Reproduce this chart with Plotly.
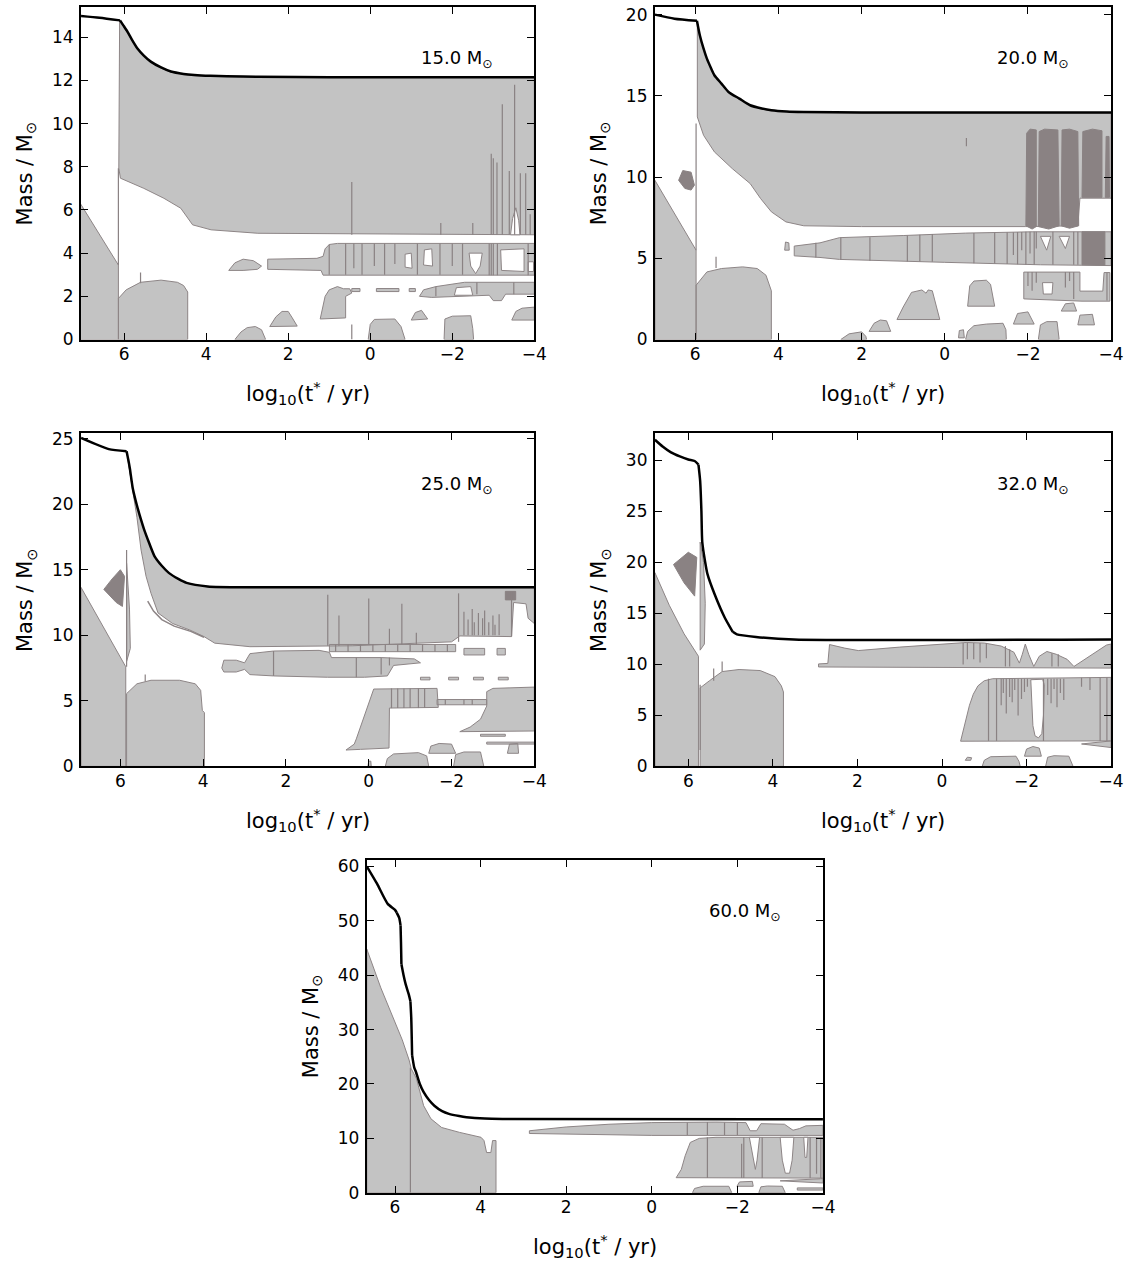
import plotly.graph_objects as go

FILL = "#c3c3c3"
EDGE = "#8d8586"
DARK = "#8a8283"
FONT = "DejaVu Sans"

# ---------------- 15.0 Msun ----------------
M15_XRANGE = [7.05, -4.0]
M15_YMAX = 15.4
M15_YTICKS = [0, 2, 4, 6, 8, 10, 12, 14]
M15_TOTAL_T = [7.15, 6.6, 6.10, 6.02, 5.92, 5.80, 5.68, 5.52, 5.35, 5.10, 4.86, 4.55, 4.29, 3.9, 3.5, 2.74, 1.0, -4.0]
M15_TOTAL_M = [15.0, 14.9, 14.78, 14.55, 14.26, 13.85, 13.49, 13.15, 12.87, 12.6, 12.41, 12.3, 12.25, 12.21,
               12.19, 12.17, 12.15, 12.15]
M15_KNEES = [2]
M15_ZONES = [
    [(7.15, 0), (7.15, 6.55), (6.14, 3.45), (6.14, 0)],
    [(6.13, 7.93), (6.11, 14.76), (6.02, 14.52), (5.92, 14.23), (5.80, 13.82), (5.68, 13.46), (5.52, 13.12),
     (5.35, 12.84), (5.10, 12.57), (4.86, 12.38), (4.55, 12.27), (4.29, 12.22), (3.5, 12.17), (2.74, 12.15),
     (-4, 12.13), (-4, 4.85), (2.74, 4.92), (3.88, 5.08), (4.33, 5.31), (4.45, 5.62), (4.62, 6.08),
     (5.03, 6.54), (5.52, 7.0), (6.09, 7.47)],
    [(6.14, 0), (6.14, 1.9), (5.95, 2.3), (5.6, 2.65), (5.1, 2.75), (4.7, 2.65), (4.55, 2.5), (4.45, 2.2), (4.45, 0)],
    [(3.45, 3.2), (3.3, 3.55), (3.1, 3.72), (2.85, 3.65), (2.65, 3.4), (2.75, 3.25), (3.1, 3.2)],
    [(2.5, 3.25), (2.5, 3.72), (1.3, 3.76), (1.15, 3.85), (1.1, 4.2), (1.0, 4.4), (0.8, 4.45), (-4, 4.45),
     (-4, 2.98), (1.15, 2.98), (1.2, 3.2)],
    [(-1.2, 2.0), (-1.3, 2.3), (-1.6, 2.45), (-2.0, 2.55), (-2.3, 2.65), (-4, 2.65), (-4, 2.1), (-3.3, 2.1),
     (-3.2, 1.8), (-3.0, 1.8), (-2.9, 2.05), (-1.5, 1.95)],
    [(1.22, 0.95), (1.15, 1.5), (1.1, 2.0), (1.0, 2.3), (0.8, 2.45), (0.65, 2.35), (0.5, 2.35), (0.45, 2.15),
     (0.6, 2.0), (0.6, 1.0)],
    [(0.45, 2.22), (0.45, 2.36), (0.25, 2.36), (0.25, 2.22)],
    [(-0.15, 2.22), (-0.15, 2.36), (-0.7, 2.36), (-0.7, 2.22)],
    [(-0.95, 2.22), (-0.95, 2.36), (-1.1, 2.36), (-1.1, 2.22)],
    [(3.3, 0), (3.15, 0.35), (3.0, 0.55), (2.8, 0.6), (2.65, 0.45), (2.55, 0)],
    [(2.45, 0.6), (2.3, 1.05), (2.15, 1.3), (2.0, 1.3), (1.9, 1.0), (1.78, 0.62)],
    [(0.05, 0), (0.0, 0.7), (-0.1, 0.93), (-0.6, 0.95), (-0.75, 0.6), (-0.85, 0)],
    [(-1.0, 0.9), (-1.1, 1.25), (-1.25, 1.35), (-1.4, 0.95)],
    [(-1.8, 0), (-1.82, 0.95), (-2.0, 1.08), (-2.45, 1.1), (-2.5, 0.5), (-2.52, 0)],
    [(-3.45, 0.9), (-3.55, 1.3), (-3.7, 1.45), (-4, 1.5), (-4, 0.9)],
]
M15_DARK = []
M15_HOLES = [
    [(-0.85, 3.35), (-0.85, 3.95), (-1.0, 4.0), (-1.02, 3.3)],
    [(-1.3, 3.45), (-1.32, 4.15), (-1.5, 4.2), (-1.52, 3.4)],
    [(-2.41, 4.0), (-2.45, 3.4), (-2.57, 3.05), (-2.68, 3.4), (-2.73, 4.0)],
    [(-3.2, 3.2), (-3.18, 4.15), (-3.75, 4.2), (-3.75, 3.15)],
    [(-3.85, 3.15), (-3.85, 3.6), (-3.98, 3.6), (-3.98, 3.15)],
    [(-2.05, 2.05), (-2.1, 2.4), (-2.45, 2.45), (-2.5, 2.05)],
    [(-3.42, 4.85), (-3.47, 5.6), (-3.55, 6.1), (-3.62, 5.5), (-3.65, 4.85)],
]
M15_SPIKES = [
    (6.14, 3.45, 7.93), (5.6, 2.6, 3.1), (0.45, 4.85, 7.3), (0.45, 0.0, 0.7), (-1.72, 4.85, 5.4),
    (-2.5, 4.85, 5.4), (-2.95, 4.85, 8.6), (-3.0, 4.85, 8.4), (-3.09, 4.85, 8.2), (-3.22, 4.85, 10.9),
    (-3.39, 4.85, 7.8), (-3.52, 4.85, 11.8), (-3.66, 4.85, 7.7), (-3.79, 4.85, 7.7), (-3.9, 4.85, 5.8),
    (1.0, 3.0, 4.4), (0.6, 3.0, 4.45), (0.4, 3.3, 4.45), (0.2, 3.0, 4.45), (-0.1, 3.4, 4.45),
    (-0.35, 3.0, 4.45), (-0.6, 3.5, 4.45), (-1.15, 3.0, 4.45), (-1.7, 3.0, 4.45), (-2.0, 3.4, 4.45),
    (-2.25, 3.0, 4.45), (-2.9, 2.98, 4.45), (-2.95, 2.98, 4.45), (-3.0, 2.98, 4.45), (-3.1, 2.98, 4.45),
    (-3.85, 2.98, 4.45), (-2.6, 2.1, 2.65), (-3.5, 2.1, 2.65), (-1.6, 2.0, 2.45),
]
M15_SHELL_T = []
M15_SHELL_M = []

# ---------------- 20.0 Msun ----------------
M20_XRANGE = [6.97, -4.0]
M20_YMAX = 20.47
M20_YTICKS = [0, 5, 10, 15, 20]
M20_TOTAL_T = [6.97, 6.5, 5.96, 5.89, 5.8, 5.72, 5.62, 5.54, 5.37, 5.2, 4.94, 4.68, 4.4, 4.17, 3.8, 3.39, 2.0, -4.0]
M20_TOTAL_M = [20.0, 19.75, 19.62, 18.73, 17.9, 17.29, 16.7, 16.27, 15.75, 15.24, 14.83, 14.42, 14.22, 14.11,
               14.03, 14.0, 13.98, 13.98]
M20_KNEES = [2]
M20_ZONES = [
    [(6.97, 0), (6.97, 9.8), (5.98, 5.5), (5.98, 0)],
    [(5.95, 13.7), (5.95, 19.55), (5.89, 18.7), (5.8, 17.87), (5.72, 17.26), (5.62, 16.67), (5.54, 16.24),
     (5.37, 15.72), (5.2, 15.21), (4.94, 14.8), (4.68, 14.39), (4.4, 14.19), (4.17, 14.08), (3.39, 13.97),
     (2.0, 13.95), (-4, 13.95), (-4, 8.7), (-3.25, 8.7), (-3.2, 7.0), (-1.95, 6.95), (2.0, 6.95), (3.39, 7.0),
     (3.82, 7.24), (4.17, 7.86), (4.43, 8.68), (4.68, 9.6), (5.11, 10.52), (5.54, 11.55), (5.8, 12.57)],
    [(5.98, 0), (5.98, 3.34), (5.72, 4.16), (5.37, 4.37), (4.86, 4.47), (4.51, 4.37), (4.3, 3.96),
     (4.21, 3.34), (4.17, 3.0), (4.17, 0)],
    [(3.85, 5.5), (3.83, 6.0), (3.75, 5.95), (3.74, 5.5)],
    [(3.62, 5.15), (3.62, 5.75), (3.0, 5.95), (2.53, 6.27), (1.0, 6.4), (-0.5, 6.55), (-2.1, 6.63),
     (-4, 6.63), (-4, 4.55), (-2.3, 4.6), (0.0, 4.75), (2.53, 4.93), (3.0, 5.05)],
    [(-1.9, 2.5), (-1.9, 4.15), (-3.25, 4.15), (-3.25, 2.98), (-3.8, 2.98), (-3.83, 4.12), (-3.97, 4.12),
     (-3.97, 2.36), (-3.3, 2.36)],
    [(2.5, 0), (2.3, 0.35), (2.0, 0.47), (1.9, 0.2), (1.88, 0)],
    [(1.82, 0.5), (1.7, 1.0), (1.55, 1.2), (1.4, 1.15), (1.3, 0.5)],
    [(1.15, 1.23), (1.0, 2.0), (0.8, 2.9), (0.55, 3.05), (0.45, 2.85), (0.4, 3.05), (0.3, 3.0), (0.25, 2.5),
     (0.12, 1.23)],
    [(-0.33, 0.1), (-0.35, 0.55), (-0.45, 0.6), (-0.47, 0.1)],
    [(-0.5, 0), (-0.55, 0.5), (-0.7, 0.85), (-1.0, 0.95), (-1.4, 1.0), (-1.47, 0.6), (-1.48, 0)],
    [(-0.55, 2.05), (-0.6, 3.3), (-0.7, 3.6), (-1.0, 3.65), (-1.1, 3.4), (-1.2, 2.05)],
    [(-1.65, 0.95), (-1.75, 1.6), (-2.0, 1.7), (-2.15, 0.95)],
    [(-2.25, 0), (-2.3, 0.9), (-2.45, 1.1), (-2.7, 1.1), (-2.75, 0)],
    [(-2.8, 1.75), (-2.9, 2.2), (-3.1, 2.25), (-3.17, 1.75)],
    [(-3.2, 0.9), (-3.25, 1.5), (-3.55, 1.55), (-3.6, 0.9)],
]
M20_DARK = [
    [(-1.95, 7.0), (-1.97, 12.7), (-2.05, 12.95), (-2.2, 12.9), (-2.2, 6.95), (-2.1, 6.8)],
    [(-2.25, 6.95), (-2.27, 12.8), (-2.4, 12.95), (-2.72, 12.9), (-2.75, 7.0), (-2.5, 6.8)],
    [(-2.8, 7.0), (-2.82, 12.9), (-3.0, 12.95), (-3.2, 12.8), (-3.22, 7.0), (-3.0, 6.85)],
    [(-3.3, 8.75), (-3.32, 12.8), (-3.55, 12.95), (-3.78, 12.85), (-3.78, 8.75)],
    [(-3.86, 8.75), (-3.88, 12.5), (-3.95, 12.5), (-3.96, 8.75)],
    [(6.4, 9.8), (6.3, 10.4), (6.1, 10.3), (6.02, 9.5), (6.1, 9.2), (6.25, 9.3)],
    [(-3.3, 4.6), (-3.3, 6.63), (-3.85, 6.63), (-3.85, 4.57)],
]
M20_HOLES = [
    [(-2.3, 6.35), (-2.55, 6.35), (-2.45, 5.5)],
    [(-2.75, 6.35), (-3.0, 6.35), (-2.9, 5.6)],
    [(-2.35, 3.5), (-2.6, 3.5), (-2.58, 2.8), (-2.37, 2.8)],
]
M20_SPIKES = [
    (5.98, 5.5, 13.3), (5.5, 4.4, 5.1), (-0.52, 11.9, 12.4), (3.1, 5.05, 5.95), (2.5, 4.93, 6.27),
    (1.8, 4.85, 6.3), (0.9, 4.8, 6.4), (0.6, 4.8, 6.45), (0.3, 4.78, 6.5), (-0.7, 4.7, 6.55),
    (-1.2, 4.68, 6.6), (-1.5, 4.65, 6.6), (-1.65, 5.2, 6.6), (-1.75, 4.63, 6.62), (-1.85, 5.5, 6.62),
    (-1.95, 4.6, 6.63), (-2.05, 5.3, 6.63), (-2.15, 4.6, 6.63), (-2.2, 5.6, 6.63), (-2.6, 4.6, 6.63),
    (-3.1, 4.6, 6.63), (-3.2, 4.6, 6.63), (-2.0, 3.3, 4.15), (-2.1, 3.0, 4.15), (-2.2, 3.5, 4.15),
    (-2.9, 3.2, 4.15), (-3.0, 3.6, 4.15), (-3.1, 2.5, 4.15), (-3.9, 2.4, 4.1),
]
M20_SHELL_T = []
M20_SHELL_M = []

# ---------------- 25.0 Msun ----------------
M25_XRANGE = [6.95, -4.0]
M25_YMAX = 25.4
M25_YTICKS = [0, 5, 10, 15, 20, 25]
M25_TOTAL_T = [6.95, 6.28, 5.85, 5.81, 5.77, 5.7, 5.6, 5.5, 5.43, 5.3, 5.17, 5.0, 4.83, 4.6, 4.4, 3.89, 2.87, -4.0]
M25_TOTAL_M = [25.05, 24.2, 24.04, 23.4, 22.7, 21.2, 19.9, 18.8, 18.1, 17.0, 16.0, 15.3, 14.76, 14.3, 14.0,
               13.73, 13.66, 13.66]
M25_KNEES = [2]
M25_ZONES = [
    [(6.95, 0), (6.95, 13.65), (5.87, 7.6), (5.87, 0)],
    [(5.8, 23.0), (5.84, 23.9), (5.81, 23.35), (5.77, 22.65), (5.7, 21.15), (5.6, 19.85), (5.5, 18.75),
     (5.43, 18.05), (5.3, 16.95), (5.17, 15.95), (5.0, 15.25), (4.83, 14.72), (4.6, 14.26), (4.4, 13.96),
     (3.89, 13.7), (2.87, 13.63), (-4, 13.63), (-4, 10.9), (-3.85, 11.3), (-3.8, 12.4),
     (-3.5, 12.5), (-3.45, 9.9), (-2.2, 9.95), (-2.0, 9.5), (0.4, 9.2), (2.87, 9.13), (3.72, 9.4),
     (3.98, 9.9), (4.32, 10.4), (4.74, 10.9), (5.09, 11.7), (5.26, 13.2), (5.38, 14.5), (5.5, 16.5),
     (5.6, 19.0), (5.72, 21.5)],
    [(5.85, 8.0), (5.85, 15.5), (5.78, 12.0), (5.76, 9.0)],
    [(5.85, 0), (5.85, 5.55), (5.6, 6.3), (5.26, 6.57), (4.57, 6.57), (4.19, 6.3), (4.06, 5.8), (4.02, 4.27),
     (3.97, 4.1), (3.97, 0)],
    [(0.95, 8.75), (0.95, 9.3), (-2.1, 9.3), (-2.1, 8.75)],
    [(-2.3, 8.5), (-2.3, 9.0), (-2.8, 9.0), (-2.8, 8.5)],
    [(-3.1, 8.5), (-3.1, 9.0), (-3.3, 9.0), (-3.3, 8.5)],
    [(3.55, 7.5), (3.5, 8.1), (3.2, 8.1), (3.0, 7.9), (2.87, 8.6), (2.3, 8.8), (1.2, 8.85), (0.95, 8.7),
     (0.9, 8.3), (-0.3, 8.3), (-1.1, 8.2), (-1.25, 7.9), (-0.6, 7.7), (-0.45, 6.9), (0.1, 6.8), (1.0, 6.8),
     (2.3, 6.9), (2.87, 7.0), (3.0, 7.4), (3.2, 7.2), (3.5, 7.2)],
    [(-1.25, 6.6), (-1.25, 6.8), (-1.48, 6.8), (-1.48, 6.6)],
    [(-1.93, 6.6), (-1.93, 6.8), (-2.17, 6.8), (-2.17, 6.6)],
    [(-2.53, 6.6), (-2.53, 6.8), (-2.77, 6.8), (-2.77, 6.6)],
    [(-3.13, 6.6), (-3.13, 6.8), (-3.37, 6.8), (-3.37, 6.6)],
    [(0.55, 1.25), (0.35, 1.7), (0.3, 2.1), (0.13, 3.6), (-0.06, 5.3), (-0.12, 5.9), (-1.65, 5.95),
     (-1.68, 4.5), (-0.5, 4.45), (-0.49, 1.4), (0.2, 1.3)],
    [(-1.65, 4.7), (-1.65, 5.1), (-2.85, 5.1), (-2.85, 4.7)],
    [(-2.2, 2.65), (-2.45, 3.0), (-2.7, 3.6), (-2.85, 4.6), (-2.85, 5.7), (-3.0, 5.95), (-4, 6.05), (-4, 2.7)],
    [(-2.7, 2.3), (-2.7, 2.45), (-3.3, 2.45), (-3.3, 2.3)],
    [(-2.85, 1.7), (-2.85, 1.85), (-4, 1.85), (-4, 1.7)],
    [(-0.4, 0), (-0.45, 0.6), (-0.6, 0.95), (-1.2, 1.05), (-1.4, 0.8), (-1.45, 0)],
    [(-1.45, 1.0), (-1.5, 1.55), (-1.7, 1.75), (-2.0, 1.7), (-2.1, 1.0)],
    [(-2.05, 0), (-2.1, 0.9), (-2.3, 1.1), (-2.7, 1.1), (-2.78, 0)],
    [(-3.35, 1.0), (-3.4, 1.7), (-3.6, 1.75), (-3.62, 1.0)],
    [(0.02, 0), (0.0, 0.4), (-0.05, 0.4), (-0.06, 0)],
]
M25_DARK = [
    [(6.4, 13.5), (6.2, 14.3), (6.0, 15.0), (5.9, 14.5), (5.95, 12.2), (6.1, 12.5)],
    [(-3.3, 13.35), (-3.55, 13.35), (-3.55, 12.7), (-3.3, 12.7)],
]
M25_HOLES = []
M25_SPIKES = [
    (5.85, 7.6, 16.5), (5.4, 6.5, 7.0), (0.99, 9.2, 13.1), (0.72, 9.2, 11.5), (0.0, 9.3, 12.8),
    (-0.5, 9.3, 10.5), (-0.8, 9.3, 12.4), (-1.15, 9.3, 10.2), (-2.17, 9.5, 13.2), (-2.3, 10.0, 11.8),
    (-2.4, 10.0, 11.2), (-2.5, 10.0, 12.0), (-2.55, 10.0, 11.0), (-2.65, 10.0, 11.7), (-2.75, 10.0, 11.3),
    (-2.8, 10.0, 11.9), (-2.9, 10.0, 11.0), (-3.0, 10.0, 11.5), (-3.05, 10.0, 10.8), (-3.15, 10.0, 11.6),
    (-3.45, 9.9, 13.3), (0.8, 8.75, 9.3), (0.5, 8.75, 9.3), (0.2, 8.75, 9.3), (-0.1, 8.75, 9.3),
    (-0.4, 8.75, 9.3), (-0.7, 8.75, 9.3), (-1.0, 8.75, 9.3), (-1.3, 8.75, 9.3), (-1.6, 8.75, 9.3),
    (-1.9, 8.75, 9.3), (-0.55, 4.45, 5.95), (-0.7, 4.45, 5.95), (-0.85, 4.45, 5.95), (-1.0, 4.45, 5.95),
    (-1.2, 4.45, 5.95), (-1.35, 4.45, 5.95), (2.3, 6.9, 8.8), (0.3, 6.8, 8.3), (-0.3, 7.0, 8.3),
    (-0.5, 7.7, 8.3), (-1.85, 4.7, 5.1), (-2.3, 4.7, 5.1), (-2.5, 4.7, 5.1),
]
M25_SHELL_T = [5.34, 5.2, 5.0, 4.7, 4.3, 3.98]
M25_SHELL_M = [12.6, 11.85, 11.2, 10.7, 10.3, 9.85]

# ---------------- 32.0 Msun ----------------
M32_XRANGE = [6.79, -4.0]
M32_YMAX = 32.66
M32_YTICKS = [0, 5, 10, 15, 20, 25, 30]
M32_TOTAL_T = [6.79, 6.6, 6.41, 6.2, 6.0, 5.85, 5.76, 5.72, 5.69, 5.67, 5.6, 5.55, 5.38, 5.14, 4.95, 4.85,
               4.4, 3.5, -4.0]
M32_TOTAL_M = [32.04, 31.35, 30.8, 30.4, 30.1, 29.95, 29.6, 28.0, 25.0, 22.0, 20.0, 18.9, 16.9, 14.6, 13.2,
               12.95, 12.7, 12.45, 12.45]
M32_KNEES = [6, 14]
M32_ZONES = [
    [(6.79, 0), (6.79, 19.0), (6.45, 15.8), (6.1, 13.0), (5.76, 10.8), (5.76, 0)],
    [(5.72, 11.4), (5.72, 22.0), (5.64, 20.0), (5.6, 16.0), (5.62, 12.0)],
    [(5.72, 0), (5.72, 7.7), (5.5, 8.4), (5.2, 9.3), (4.8, 9.5), (4.3, 9.4), (3.95, 8.8), (3.8, 7.9),
     (3.75, 7.3), (3.75, 0)],
    [(2.92, 9.75), (2.92, 10.05), (2.7, 10.1), (2.66, 11.95), (2.3, 11.6), (1.98, 11.36), (1.0, 11.7),
     (0.0, 12.0), (-0.57, 12.15), (-1.0, 12.1), (-1.4, 11.8), (-1.7, 11.2), (-1.83, 10.13), (-1.9, 11.0),
     (-1.97, 12.0), (-2.05, 11.0), (-2.17, 9.8), (-2.3, 10.8), (-2.48, 11.27), (-2.7, 11.0), (-2.96, 10.5),
     (-3.12, 9.8), (-3.5, 10.8), (-3.89, 11.9), (-4, 12.0), (-4, 9.64)],
    [(-0.44, 2.47), (-0.5, 3.5), (-0.57, 4.45), (-0.65, 6.0), (-0.74, 7.08), (-0.85, 7.9), (-1.0, 8.4),
     (-1.2, 8.6), (-4, 8.73), (-4, 2.5)],
    [(-3.3, 2.2), (-4, 2.5), (-4, 1.85)],
    [(-0.95, 0), (-1.0, 0.6), (-1.15, 0.95), (-1.75, 1.0), (-1.82, 0.5), (-1.85, 0)],
    [(-1.95, 1.0), (-2.0, 1.7), (-2.15, 1.95), (-2.3, 1.8), (-2.35, 1.0)],
    [(-2.45, 0), (-2.5, 0.9), (-2.65, 1.05), (-3.0, 1.0), (-3.1, 0)],
    [(-0.55, 0.6), (-0.6, 0.9), (-0.7, 0.85), (-0.68, 0.6)],
]
M32_DARK = [
    [(6.35, 19.8), (6.0, 21.0), (5.8, 20.5), (5.85, 16.7), (6.1, 18.0)],
]
M32_HOLES = [
    [(-2.1, 8.5), (-2.15, 4.0), (-2.2, 3.0), (-2.28, 2.8), (-2.36, 3.2), (-2.4, 5.0), (-2.42, 8.0), (-2.38, 8.55)],
]
M32_SPIKES = [
    (5.72, 1.6, 8.0), (5.4, 8.4, 9.6), (5.2, 9.3, 10.3), (-0.5, 10.0, 12.1), (-0.6, 10.5, 12.1),
    (-0.75, 10.5, 12.1), (-0.9, 10.2, 12.1), (-1.05, 10.6, 12.1), (-1.1, 2.5, 8.6), (-1.29, 2.5, 8.6),
    (-1.5, 9.8, 11.8), (-1.6, 9.8, 11.5), (-2.6, 9.8, 11.1), (-2.75, 9.8, 11.0), (-2.4, 2.5, 8.6),
    (-3.74, 2.5, 8.7), (-3.9, 2.5, 8.7), (-1.4, 6.0, 8.6), (-1.45, 7.2, 8.6), (-1.52, 5.2, 8.6),
    (-1.6, 6.8, 8.6), (-1.66, 6.3, 8.6), (-1.72, 7.5, 8.6), (-1.8, 5.0, 8.6), (-1.88, 6.6, 8.6),
    (-1.95, 7.3, 8.6), (-2.02, 7.8, 8.6), (-2.5, 7.0, 8.6), (-2.58, 6.2, 8.6), (-2.65, 7.6, 8.6),
    (-2.72, 5.8, 8.6), (-2.8, 7.2, 8.6), (-2.88, 6.5, 8.6), (-3.3, 7.8, 8.7), (-3.5, 7.5, 8.7),
]
M32_SHELL_T = []
M32_SHELL_M = []

# ---------------- 60.0 Msun ----------------
M60_XRANGE = [6.66, -4.0]
M60_YMAX = 61.2
M60_YTICKS = [0, 10, 20, 30, 40, 50, 60]
M60_TOTAL_T = [6.66, 6.42, 6.17, 6.0, 5.96, 5.9, 5.87, 5.86, 5.85, 5.8, 5.75, 5.68, 5.64, 5.62, 5.6, 5.55, 5.51,
               5.42, 5.33, 5.2, 5.08, 4.9, 4.74, 4.5, 4.33, 3.9, 3.49, -4.0]
M60_TOTAL_M = [60.0, 56.8, 53.1, 52.0, 51.5, 50.5, 49.1, 46.0, 42.0, 40.0, 38.3, 36.5, 35.2, 32.1, 25.3, 23.0,
               22.2, 20.0, 18.5, 17.0, 16.0, 15.0, 14.5, 14.1, 13.9, 13.65, 13.58, 13.5]
M60_KNEES = [4, 6, 8, 12, 14]
M60_ZONES = [
    [(6.66, 0), (6.66, 44.8), (6.33, 37.65), (6.0, 31.2), (5.83, 28.1), (5.67, 24.4), (5.62, 22.8),
     (5.5, 21.0), (5.33, 16.0), (5.16, 13.6), (4.91, 12.0), (4.49, 11.1), (3.99, 10.2), (3.92, 9.6),
     (3.86, 7.4), (3.76, 7.4), (3.72, 9.6), (3.64, 9.6), (3.64, 0)],
    [(2.86, 10.9), (2.86, 11.4), (2.0, 12.1), (1.0, 12.6), (0.0, 12.9), (-1.5, 13.0), (-2.2, 12.9),
     (-2.3, 11.4), (-2.45, 11.4), (-2.55, 12.7), (-3.1, 12.6), (-3.3, 11.5), (-3.45, 11.8), (-3.6, 12.3),
     (-4, 12.4), (-4, 10.55), (0.0, 10.55)],
    [(-0.57, 2.78), (-0.69, 4.3), (-0.78, 6.8), (-0.9, 9.26), (-1.11, 10.0), (-1.5, 10.2), (-4, 10.2), (-4, 2.7)],
    [(-3.0, 2.2), (-4, 2.6), (-4, 1.8)],
    [(-0.95, 0), (-1.0, 0.8), (-1.2, 1.2), (-1.8, 1.2), (-1.87, 0)],
    [(-1.99, 1.2), (-2.05, 2.0), (-2.35, 2.1), (-2.37, 1.2)],
    [(-2.5, 0), (-2.55, 1.1), (-2.7, 1.25), (-3.05, 1.2), (-3.12, 0)],
    [(-3.4, 0.5), (-3.4, 0.9), (-4, 0.9), (-4, 0.5)],
]
M60_DARK = []
M60_HOLES = [
    [(-2.28, 10.2), (-2.38, 6.0), (-2.42, 4.3), (-2.46, 6.0), (-2.52, 10.2)],
    [(-3.0, 10.2), (-3.05, 6.0), (-3.12, 3.6), (-3.22, 3.6), (-3.28, 6.0), (-3.32, 10.2)],
    [(-3.55, 10.2), (-3.58, 6.5), (-3.62, 6.5), (-3.65, 10.2)],
]
M60_SPIKES = [
    (5.64, 0.0, 23.0), (-1.3, 2.7, 10.2), (-2.15, 2.7, 10.2), (-2.58, 2.7, 10.2), (-0.83, 10.6, 12.9),
    (-1.3, 10.6, 13.0), (-1.7, 10.6, 12.9), (-2.0, 10.6, 12.9), (-3.7, 2.7, 10.2), (-3.85, 3.5, 10.2),
    (-3.95, 2.7, 10.2), (-2.1, 2.7, 9.0),
]
M60_SHELL_T = []
M60_SHELL_M = []

XTICKS = [6, 4, 2, 0, -2, -4]
XTICKTEXT = ["6", "4", "2", "0", "\u22122", "\u22124"]

PANELS = [
    ("15.0", M15_XRANGE, M15_YMAX, M15_YTICKS, M15_TOTAL_T, M15_TOTAL_M, M15_KNEES, M15_ZONES, M15_DARK,
     M15_HOLES, M15_SPIKES, M15_SHELL_T, M15_SHELL_M),
    ("20.0", M20_XRANGE, M20_YMAX, M20_YTICKS, M20_TOTAL_T, M20_TOTAL_M, M20_KNEES, M20_ZONES, M20_DARK,
     M20_HOLES, M20_SPIKES, M20_SHELL_T, M20_SHELL_M),
    ("25.0", M25_XRANGE, M25_YMAX, M25_YTICKS, M25_TOTAL_T, M25_TOTAL_M, M25_KNEES, M25_ZONES, M25_DARK,
     M25_HOLES, M25_SPIKES, M25_SHELL_T, M25_SHELL_M),
    ("32.0", M32_XRANGE, M32_YMAX, M32_YTICKS, M32_TOTAL_T, M32_TOTAL_M, M32_KNEES, M32_ZONES, M32_DARK,
     M32_HOLES, M32_SPIKES, M32_SHELL_T, M32_SHELL_M),
    ("60.0", M60_XRANGE, M60_YMAX, M60_YTICKS, M60_TOTAL_T, M60_TOTAL_M, M60_KNEES, M60_ZONES, M60_DARK,
     M60_HOLES, M60_SPIKES, M60_SHELL_T, M60_SHELL_M),
]

# layout boxes in pixels: left, right, top, bottom
W, H = 1135, 1270
BOXES = [(82, 540.5, 2, 338.5), (662.5, 1124, 2, 338.5), (82, 540.5, 433.5, 770.5),
         (662.5, 1124, 433.5, 770.5), (371, 832.5, 865, 1202)]


def poly_xy(polys):
    xs, ys = [], []
    for p in polys:
        for t, m in p:
            xs.append(t)
            ys.append(m)
        xs.append(p[0][0])
        ys.append(p[0][1])
        xs.append(None)
        ys.append(None)
    return xs, ys


def spike_xy(spikes):
    xs, ys = [], []
    for t, m0, m1 in spikes:
        xs += [t, t, None]
        ys += [m0, m1, None]
    return xs, ys


fig = go.Figure()
annotations = []
layout = {}
for i, (label, xr, ymax, yt, tt, tm, knees, zones, dark, holes, spikes, sht, shm) in enumerate(PANELS):
    n = "" if i == 0 else str(i + 1)
    xa, ya = "x" + n, "y" + n
    common = dict(xaxis=xa, yaxis=ya, mode="lines", hoverinfo="skip", showlegend=False)
    zx, zy = poly_xy(zones)
    fig.add_trace(go.Scatter(x=zx, y=zy, fill="toself", fillcolor=FILL, line=dict(color=EDGE, width=1), **common))
    if dark:
        dx, dy = poly_xy(dark)
        fig.add_trace(go.Scatter(x=dx, y=dy, fill="toself", fillcolor=DARK, line=dict(color=DARK, width=1), **common))
    if holes:
        hx, hy = poly_xy(holes)
        fig.add_trace(go.Scatter(x=hx, y=hy, fill="toself", fillcolor="white", line=dict(color=EDGE, width=1), **common))
    sx, sy = spike_xy(spikes)
    fig.add_trace(go.Scatter(x=sx, y=sy, line=dict(color=DARK, width=1.2), **common))
    if sht:
        fig.add_trace(go.Scatter(x=sht, y=shm, line=dict(color=EDGE, width=1.5), **common))
    # total stellar mass, drawn piecewise smooth between sharp knees
    cuts = [0] + list(knees) + [len(tt) - 1]
    for a, b in zip(cuts[:-1], cuts[1:]):
        fig.add_trace(go.Scatter(x=tt[a:b + 1], y=tm[a:b + 1],
                                 line=dict(color="black", width=2.5, shape="spline", smoothing=0.6), **common))

    l, r, t, b = BOXES[i]
    axis_common = dict(showline=True, linewidth=2, linecolor="black", mirror="ticks", ticks="inside",
                       ticklen=7, tickwidth=1.2, tickcolor="black", showgrid=False, zeroline=False,
                       tickfont=dict(family=FONT, size=17, color="black"))
    layout["xaxis" + n] = dict(domain=[l / W, r / W], range=xr, anchor=ya, tickmode="array",
                               tickvals=XTICKS, ticktext=XTICKTEXT, ticklabelstandoff=-2, **axis_common)
    layout["yaxis" + n] = dict(domain=[1 - b / H, 1 - t / H], range=[0, ymax], anchor=xa, tickmode="array",
                               tickvals=yt, ticktext=[str(v) for v in yt], ticklabelstandoff=2, **axis_common)
    annotations.append(dict(text=label + " M<sub>\u2299</sub>", xref=xa + " domain", yref=ya + " domain",
                            x=0.913, y=0.844, xanchor="right", yanchor="middle", showarrow=False,
                            font=dict(family=FONT, size=18, color="black")))
    annotations.append(dict(text="log<sub>10</sub>(t<sup>*</sup> / yr)", xref="paper", yref="paper",
                            x=(l + r) / 2 / W, y=1 - (b + 54) / H, xanchor="center", yanchor="middle",
                            showarrow=False, font=dict(family=FONT, size=21, color="black")))
    annotations.append(dict(text="Mass / M<sub>\u2299</sub>", xref="paper", yref="paper",
                            x=(l - 55.5) / W, y=1 - (t + b) / 2 / H, xanchor="center", yanchor="middle",
                            textangle=-90, showarrow=False, font=dict(family=FONT, size=21, color="black")))

fig.update_layout(width=W, height=H, margin=dict(l=0, r=0, t=0, b=0), paper_bgcolor="white",
                  plot_bgcolor="white", annotations=annotations, **layout)
fig.write_html("out.html", config={"displayModeBar": False},
               post_script="document.documentElement.style.overflow='hidden'; "
                           "document.body.style.overflow='hidden'; document.body.style.margin='0px';")
